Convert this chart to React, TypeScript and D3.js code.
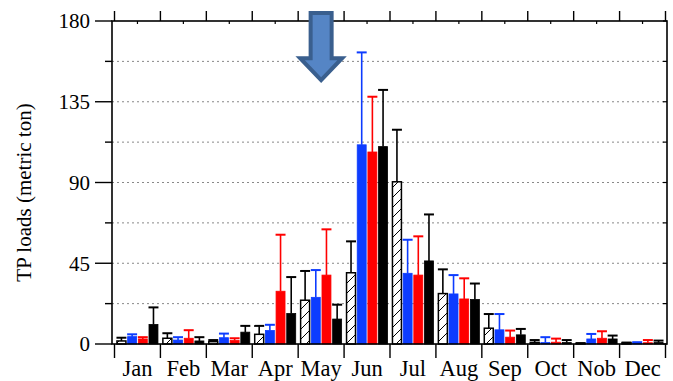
import React from 'react'
import * as d3 from 'd3'

// monthly TP loads
const months = ['Jan', 'Feb', 'Mar', 'Apr', 'May', 'Jun', 'Jul', 'Aug', 'Sep', 'Oct', 'Nob', 'Dec']
const seriesKeys = ['s1', 's2', 's3', 's4']

const s1Mean = [1.7, 3.2, 1.3, 5.4, 24.4, 39.7, 90.4, 28.1, 8.8, 0.9, 0.3, 0.6]
const s1Top = [3.5, 6.0, 2.2, 10.1, 40.7, 57.2, 119.4, 41.6, 16.7, 2.2, 0.5, 0.8]
const s2Mean = [4.1, 2.2, 3.5, 7.5, 26.0, 111.0, 39.4, 27.9, 7.9, 0.8, 2.8, 0.7]
const s2Top = [5.4, 3.8, 5.8, 10.7, 41.2, 162.5, 58.1, 38.4, 16.7, 3.8, 5.6, 1.0]
const s3Mean = [2.8, 3.2, 1.9, 29.4, 38.4, 107.0, 38.4, 25.1, 3.8, 1.0, 3.2, 0.7]
const s3Top = [3.8, 7.7, 3.2, 60.9, 63.9, 137.8, 60.0, 36.6, 7.5, 3.0, 7.1, 2.2]
const s4Mean = [10.9, 1.7, 6.6, 17.0, 13.9, 110.0, 46.3, 24.8, 5.1, 0.8, 2.8, 0.8]
const s4Top = [20.4, 3.8, 10.1, 37.3, 21.9, 141.6, 72.2, 33.7, 8.4, 2.2, 4.7, 1.9]

const yTicks = [0, 45, 90, 135, 180]
const yMinor = [22.5, 67.5, 112.5, 157.5]
const arrowMonth = 'May'
const arrowTip = 147

const W = 673
const H = 381
const left = 112
const right = 667
const top = 21
const bottom = 344
const font = '"Liberation Serif", "Times New Roman", serif'

export default function App() {
  const x = d3.scaleBand<string>().domain(months).range([114.5, 665.5])
  const xs = d3.scaleBand<string>().domain(seriesKeys).range([0, x.bandwidth()])
    .paddingInner(0.16).paddingOuter(0.23)
  const y = d3.scaleLinear().domain([0, 180]).range([bottom, top])

  const series = [
    { key: 's1', mean: s1Mean, hi: s1Top, fill: 'url(#hatch)', color: '#000' },
    { key: 's2', mean: s2Mean, hi: s2Top, fill: '#0d3cff', color: '#0d3cff' },
    { key: 's3', mean: s3Mean, hi: s3Top, fill: '#ff0000', color: '#ff0000' },
    { key: 's4', mean: s4Mean, hi: s4Top, fill: '#000', color: '#000' },
  ]

  const bw = xs.bandwidth()
  const grid = [...yMinor, ...yTicks.filter(t => t > 0 && t < 180)]

  // arrow annotation over May
  const ac = (x(arrowMonth) ?? 0) + x.bandwidth() / 2
  const tipY = y(arrowTip)
  const arrow = `M${ac - 10.5},13 L${ac + 10.5},13 L${ac + 10.5},${tipY - 22} L${ac + 21},${tipY - 22} L${ac},${tipY} L${ac - 21},${tipY - 22} L${ac - 10.5},${tipY - 22} Z`

  return (
    <svg width={W} height={H} style={{ position: 'absolute', left: 0, top: 0, background: '#fff' }}>
      <defs>
        <pattern id="hatch" patternUnits="userSpaceOnUse" width="10" height="10">
          <rect width="10" height="10" fill="#fff" />
          <path d="M0,10 L10,0" stroke="#000" strokeWidth="1" />
        </pattern>
      </defs>

      {/* dotted grid */}
      {grid.map(g => (
        <line key={'g' + g} x1={left} x2={right} y1={y(g)} y2={y(g)}
          stroke="#888" strokeWidth={1} strokeDasharray="2,3" />
      ))}

      {/* bars and error bars */}
      {series.map(s => (
        <g key={s.key}>
          {months.map((m, i) => {
            const bx = (x(m) ?? 0) + (xs(s.key) ?? 0)
            const cx = bx + bw / 2
            return (
              <g key={m}>
                <line x1={cx} x2={cx} y1={y(s.mean[i])} y2={y(s.hi[i])} stroke={s.color} strokeWidth={1.6} />
                <line x1={cx - bw / 2 - 0.5} x2={cx + bw / 2 + 0.5} y1={y(s.hi[i])} y2={y(s.hi[i])}
                  stroke={s.color} strokeWidth={2} />
                <rect x={bx} y={y(s.mean[i])} width={bw} height={bottom - y(s.mean[i])}
                  fill={s.fill} stroke={s.color} strokeWidth={s.key === 's1' ? 1.5 : 0.8} />
              </g>
            )
          })}
        </g>
      ))}

      {/* frame */}
      <rect x={left} y={top} width={right - left} height={bottom - top} fill="none" stroke="#000" strokeWidth={1.6} />

      {/* left axis */}
      {yTicks.map(t => (
        <g key={'yt' + t}>
          <line x1={95} x2={left} y1={y(t)} y2={y(t)} stroke="#000" strokeWidth={1.4} />
          <text x={90} y={y(t)} dy="0.35em" textAnchor="end" fontFamily={font} fontSize={21}>{t}</text>
        </g>
      ))}
      {yMinor.map(t => (
        <line key={'ym' + t} x1={105} x2={left} y1={y(t)} y2={y(t)} stroke="#000" strokeWidth={1.4} />
      ))}
      {/* right axis inward ticks */}
      {[...yTicks, ...yMinor].map(t => (
        <line key={'yr' + t} x1={right - 4} x2={right} y1={y(t)} y2={y(t)} stroke="#000" strokeWidth={1.2} />
      ))}

      {/* top axis */}
      {[...months.map(m => x(m) ?? 0), x.range()[1]].map((v, i) => (
        <line key={'tb' + i} x1={v} x2={v} y1={top - 10} y2={top} stroke="#000" strokeWidth={1.4} />
      ))}
      {months.map(m => {
        const v = (x(m) ?? 0) + x.bandwidth() / 2
        return <line key={'tc' + m} x1={v} x2={v} y1={top} y2={top + 3} stroke="#000" strokeWidth={1.2} />
      })}

      {/* bottom axis */}
      {[...months.map(m => x(m) ?? 0), x.range()[1]].map((v, i) => (
        <line key={'bb' + i} x1={v} x2={v} y1={bottom} y2={bottom + 14} stroke="#000" strokeWidth={1.4} />
      ))}
      {months.map(m => (
        <text key={'ml' + m} x={(x(m) ?? 0) + x.bandwidth() / 2} y={376} textAnchor="middle"
          fontFamily={font} fontSize={22.5}>{m}</text>
      ))}

      <text transform={`translate(31,${(top + bottom) / 2 + 10}) rotate(-90)`} textAnchor="middle"
        fontFamily={font} fontSize={21}>TP loads (metric ton)</text>

      <path d={arrow} fill="#5585c5" stroke="#3a5f8e" strokeWidth={4} strokeLinejoin="miter" />
    </svg>
  )
}
